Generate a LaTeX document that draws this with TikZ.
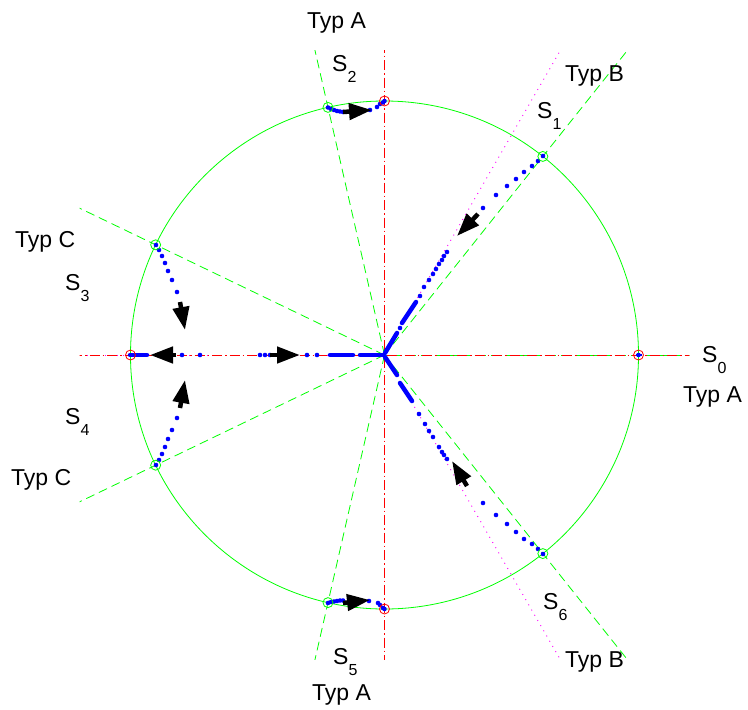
\documentclass[tikz,border=0pt]{standalone}
\usepackage{fontspec}
\setmainfont{Liberation Sans}
\usetikzlibrary{arrows.meta,calc}
\definecolor{mgreen}{RGB}{0,255,0}
\definecolor{mred}{RGB}{255,0,0}
\definecolor{mmag}{RGB}{255,0,255}
\definecolor{mblue}{RGB}{0,0,255}
\newcommand\Sub[1]{S\raisebox{-11pt}{\fontsize{16}{16}\selectfont #1}}
\begin{document}
\begin{tikzpicture}[x=1pt,y=-1pt,
  gline/.style={mgreen, line width=0.8pt, dash pattern=on 9pt off 5pt},
  rline/.style={mred, line width=1pt, dash pattern=on 10pt off 3pt on 1.5pt off 3pt},
  mline/.style={mmag, line width=0.9pt, dash pattern=on 1pt off 5pt},
  thk/.style={mblue, line width=4.5pt, line cap=round},
  arr/.style={black, line width=4.5pt, -{Triangle[length=23pt,width=16pt]}},
  lab/.style={anchor=base west, inner sep=0pt, font=\fontsize{23}{23}\selectfont},
  gmark/.style={mgreen, line width=0.8pt},
  rmark/.style={mred, line width=0.8pt},
]
\useasboundingbox (0,0) rectangle (748,710);
\coordinate (C) at (384.5,355);
% reference lines, clipped to the axes box
\begin{scope}
\clip ($(C)+(-304.8,-304.8)$) rectangle ($(C)+(304.8,304.8)$);
\foreach \k in {1,...,6} \draw[gline] (C) -- ($(C)+(-\k*360/7:500)$);
\draw[gline, dash phase=6pt] (C) -- ($(C)+(500,0)$);
\foreach \a in {60,300} \draw[mline] (C) -- ($(C)+(-\a:500)$);
\draw[mline, dash phase=3pt] (C) -- ($(C)+(-500,0)$);
\draw[rline] ($(C)+(-400,0)$) -- ($(C)+(400,0)$);
\draw[rline] ($(C)+(0,-400)$) -- ($(C)+(0,400)$);
\end{scope}
% unit circle
\draw[mgreen, line width=0.8pt] (C) circle[radius=254pt];
% trajectories: isolated dots
\foreach \p in {(543,156),(538,161),(532,166),(524,172),(516,179),(507,186),(496,195),(483,208),
  (447,252),(444,256),(442,260),(439,264),(436,269),(433,274),(429,280),(424,287),(420,296),(400,328),
  (543,554),(538,549),(532,544),(524,539),(516,532),(507,524),(496,515),(483,503),
  (447,459),(444,455),(442,452),(439,447),(433,437),(429,431),(425,424),(419,414),
  (328,107.5),(331,109),(334,110),(337,111),(340,111.5),(343,112),(370,110),(377,107),(380,104),(383,102.5),
  (328,603),(331,602),(334,601.5),(337,601),(340,600.5),(343,600.5),(369,601),(378,603),(380,605),(383,608),
  (156,245),(159,250),(162,256),(165,263),(168,271),(172,280),(177,292),
  (156,465),(159,460),(162,454),(165,447),(168,439),(172,430),(177,418),
  (182,355),(200,355),(260,355),(265,355),(270,355),(307,355),(317,355),
  (638.5,355),(384.5,101),(384.5,609)}
  \fill[mblue] \p circle[radius=2.3pt];
% dense parts
\draw[thk] (416,302) -- (402,323);
\draw[thk] (397,333) -- (385,353);
\draw[thk] (412,401) -- (400,383);
\draw[thk] (397,375) -- (385,357);
\draw[thk] (330,355) -- (353,355);
\draw[thk] (360,355) -- (383,355);
\draw[thk] (130,355) -- (147,355);
\draw[mblue, line width=2pt] (635.5,355) -- (641.5,355);
% arrows
\draw[arr] (478,214) -- (457,236);
\draw[arr] (467,486) -- (452,461);
\draw[arr] (343,112) -- (372,110);
\draw[arr] (343,603) -- (370,600);
\draw[arr] (180,302) -- (185,330);
\draw[arr] (180,408) -- (185,380);
\draw[arr] (176,355) -- (150,355);
\draw[arr] (270,355) -- (300,355);
% markers
\foreach \k in {1,...,6} \draw[gmark] ($(C)+(-\k*360/7:254)$) circle[radius=5pt];
\foreach \a in {0,90,180,270} \draw[rmark] ($(C)+(-\a:254)$) circle[radius=5pt];
% labels
\node[lab] (tA1) at (307,28) {Typ A};
\node[lab] (s2) at (332,71) {\Sub{2}};
\node[lab] (tB1) at (565,81) {Typ B};
\node[lab] (s1) at (537,118) {\Sub{1}};
\node[lab] (tC1) at (15,247) {Typ C};
\node[lab] (s3) at (65,290) {\Sub{3}};
\node[lab] (s4) at (65,424) {\Sub{4}};
\node[lab] (tC2) at (11,485) {Typ C};
\node[lab] (s0) at (702,362) {\Sub{0}};
\node[lab] (tA2) at (683,402) {Typ A};
\node[lab] (s6) at (543,609) {\Sub{6}};
\node[lab] (tB2) at (565,667) {Typ B};
\node[lab] (s5) at (333,664) {\Sub{5}};
\node[lab] (tA3) at (312,700) {Typ A};
\end{tikzpicture}
\end{document}
